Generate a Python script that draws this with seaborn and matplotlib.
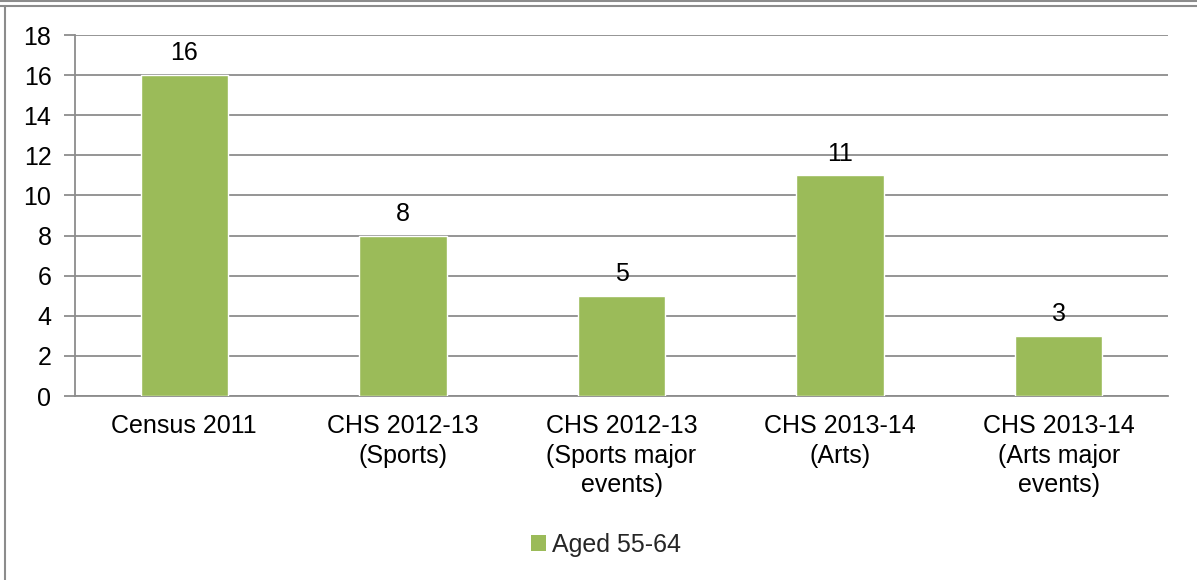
import matplotlib
matplotlib.use("Agg")
import matplotlib.pyplot as plt
import seaborn as sns
import pandas as pd
from matplotlib.lines import Line2D
from matplotlib.patches import Patch

categories = ["Census 2011", "CHS 2012-13\n(Sports)", "CHS 2012-13\n(Sports major\nevents)",
              "CHS 2013-14\n(Arts)", "CHS 2013-14\n(Arts major\nevents)"]
values = [16, 8, 5, 11, 3]
series_name = "Aged 55-64"
y_ticks = [0, 2, 4, 6, 8, 10, 12, 14, 16, 18]

sns.set_theme(style="white")
plt.rcParams['font.family'] = ['Liberation Sans', 'DejaVu Sans']

GREEN = "#9BBB59"
GRID = "#8C8C8C"
FS = 18

df = pd.DataFrame({"category": categories, "value": values})

fig = plt.figure(figsize=(11.97, 5.80), dpi=100)
ax = fig.add_axes([75/1197, 1-396/580, (1168-75)/1197, (396-35)/580])

sns.barplot(data=df, x="category", y="value", color=GREEN, width=0.4,
            saturation=1, ax=ax, zorder=3)

ax.set_ylim(0, 18)
ax.set_xlim(-0.5, len(categories) - 0.5)
ax.set_yticks(y_ticks)
ax.set_yticklabels([str(t) for t in y_ticks], fontsize=FS, color="black")
ax.yaxis.grid(True, color=GRID, linewidth=1.3, zorder=0)
ax.set_axisbelow(True)
ax.set_xlabel("")
ax.set_ylabel("")

ax.set_xticks(range(len(categories)))
ax.set_xticklabels(categories, fontsize=FS, color="black", linespacing=1.3)
ax.tick_params(axis="x", which="major", length=0, pad=13)
ax.set_xticks([i - 0.5 for i in range(len(categories) + 1)], minor=True)
ax.tick_params(axis="x", which="minor", length=7, color=GRID, width=1.3, direction="out")
ax.tick_params(axis="y", which="major", length=8, color=GRID, width=1.3, direction="out", pad=9,
               left=True)

for s in ["top", "right"]:
    ax.spines[s].set_visible(False)
for s in ["left", "bottom"]:
    ax.spines[s].set_color(GRID)
    ax.spines[s].set_linewidth(1.3)

for c in ax.containers:
    ax.bar_label(c, labels=[str(v) for v in values], fontsize=FS, padding=7, color="black")

leg = fig.legend(handles=[Patch(facecolor=GREEN, edgecolor="none", label=series_name)],
                 loc="center", bbox_to_anchor=(606/1197, 1-545/580), frameon=False,
                 fontsize=FS, handlelength=0.6, handleheight=0.6, handletextpad=0.25)

# figure frame lines
fig.add_artist(Line2D([0, 1], [1-1/580, 1-1/580], transform=fig.transFigure, color="#8C8C8C", lw=1.5))
fig.add_artist(Line2D([0, 1], [1-5.5/580, 1-5.5/580], transform=fig.transFigure, color="#8C8C8C", lw=1.5))
fig.add_artist(Line2D([5/1197, 5/1197], [0, 1-5.5/580], transform=fig.transFigure, color="#8C8C8C", lw=1.5))

fig.savefig("out.png", dpi=100, facecolor="white")
